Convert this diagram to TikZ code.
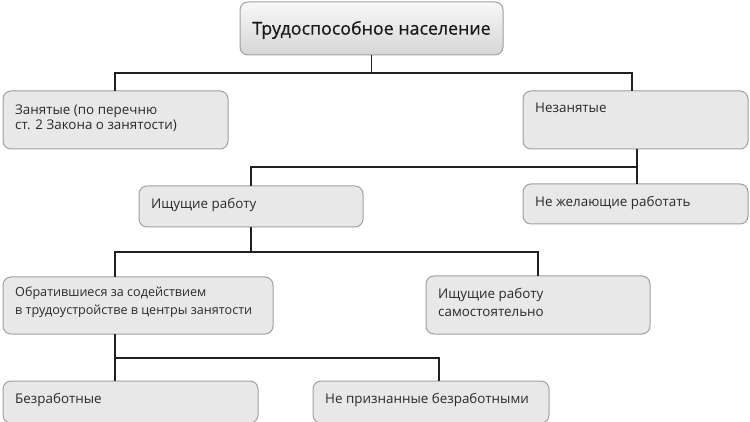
\documentclass[tikz,border=0pt]{standalone}
\usepackage{fontspec}
\setmainfont{Open Sans}
\newfontfamily\titlefont[FakeBold=0.6]{Open Sans}
\definecolor{boxfill}{HTML}{E8E8E8}
\definecolor{boxline}{HTML}{A0A0A0}
\definecolor{txtcol}{HTML}{2A2A2A}
\definecolor{linecol}{HTML}{202020}
\begin{document}
\begin{tikzpicture}[x=1pt,y=-1pt,
  box/.style={draw=boxline, fill=boxfill, line width=1pt, rounded corners=8pt,
    inner sep=0pt, outer sep=0pt, anchor=north west},
  topbox/.style={box, top color=white!70!boxfill, bottom color=boxfill!92!black},
  txt/.style={font=\fontsize{13.4}{15}\selectfont, text=txtcol, anchor=west, inner sep=0pt, align=left},
  conn/.style={draw=linecol, line width=1.3pt}]
\useasboundingbox (0,0) rectangle (750,422);

% boxes
\node[topbox, minimum width=263pt, minimum height=53pt] (top) at (240,2) {};
\node[font=\titlefont\fontsize{17.8}{20}\selectfont, text=black!90] (topt) at (371.5,30) {Трудоспособное население};

\node[box, minimum width=225pt, minimum height=58pt] (zan) at (3,91) {};
\node[txt, font=\fontsize{13.4}{15.5}\selectfont] (zant) at (15,118) {Занятые (по перечню\\ст. 2 Закона о занятости)};

\node[box, minimum width=225pt, minimum height=58pt] (nez) at (523,91) {};
\node[txt] (nezt) at (535,108) {Незанятые};

\node[box, minimum width=224pt, minimum height=41pt] (ish) at (139,186) {};
\node[txt] (isht) at (151,205) {Ищущие работу};

\node[box, minimum width=225pt, minimum height=40pt] (nzh) at (523,184) {};
\node[txt] (nzht) at (535,203) {Не желающие работать};

\node[box, minimum width=270pt, minimum height=57pt] (obr) at (3,277) {};
\node[txt, font=\fontsize{12.6}{18}\selectfont] (obrt) at (15,302.5) {Обратившиеся за содействием\\в трудоустройстве в центры занятости};

\node[box, minimum width=224pt, minimum height=58pt] (sam) at (426,276) {};
\node[txt, font=\fontsize{13.4}{18}\selectfont] (samt) at (438,302.5) {Ищущие работу\\самостоятельно};

\node[box, minimum width=255pt, minimum height=42pt] (bez) at (3,381) {};
\node[txt] (bezt) at (15,400) {Безработные};

\node[box, minimum width=236pt, minimum height=42pt] (npr) at (313,381) {};
\node[txt] (nprt) at (325,400) {Не признанные безработными};

% connectors
\coordinate (j1) at (371.5,73);
\draw[conn] (top.south) -- (j1);
\draw[conn] (zan.north -| 115,0) |- (j1) -| (nez.north -| 632,0);

\coordinate (j2) at (637,167);
\draw[conn] (nez.south -| j2) -- (nzh.north -| j2);
\draw[conn] (j2) -| (ish.north);

\coordinate (j3) at (251,252);
\draw[conn] (ish.south) -- (j3);
\draw[conn] (obr.north -| 115,0) |- (j3) -| (sam.north);

\coordinate (j4) at (115,358);
\draw[conn] (obr.south -| j4) -- (bez.north -| j4);
\draw[conn] (j4) -| (npr.north -| 439,0);
\end{tikzpicture}
\end{document}
